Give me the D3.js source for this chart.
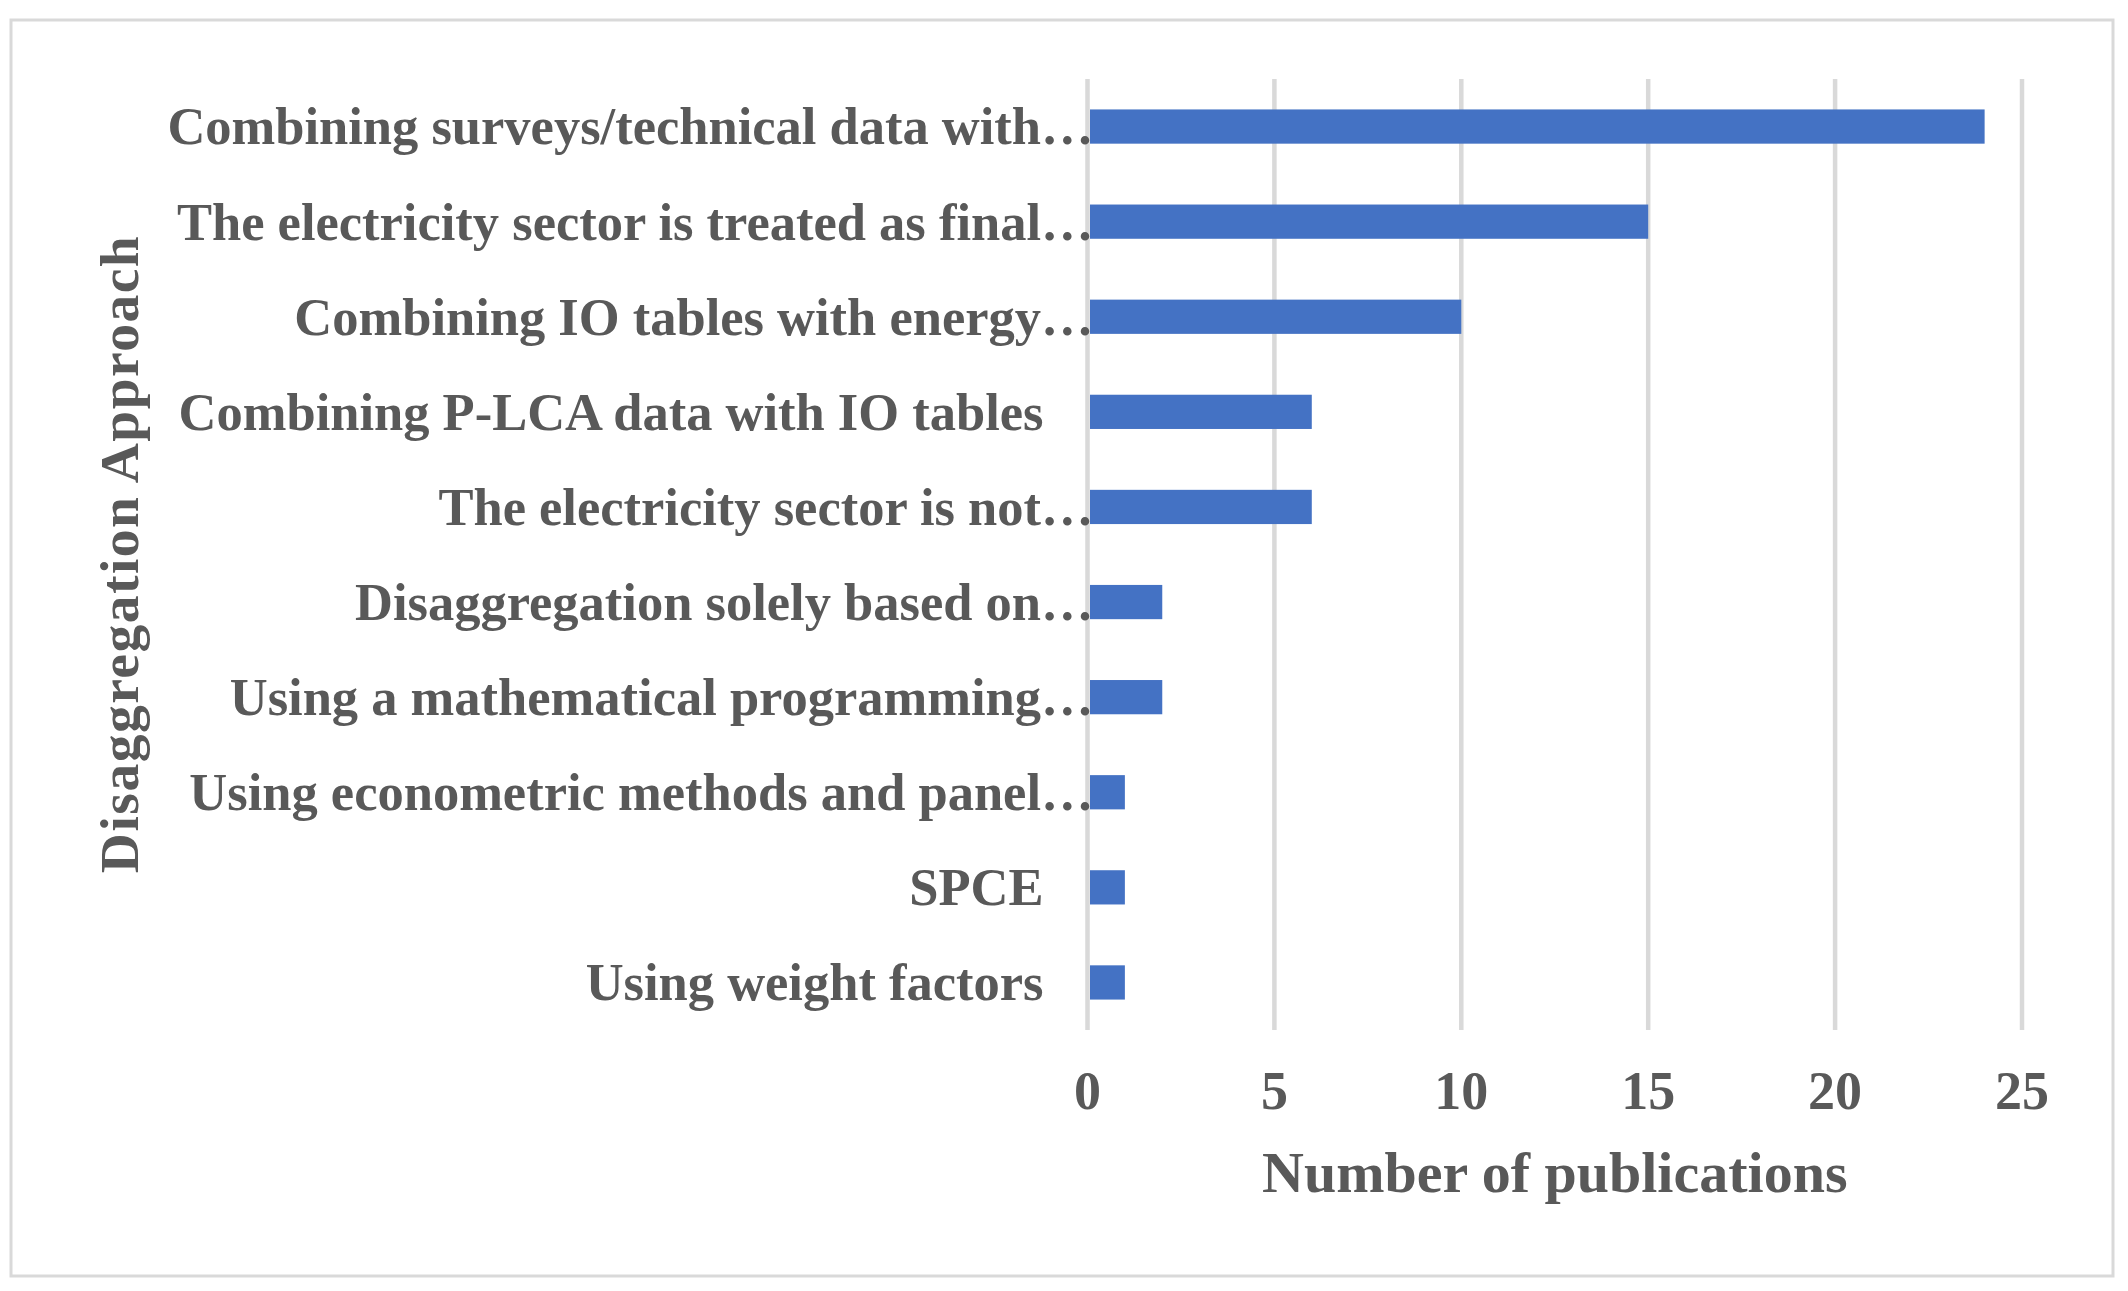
<!DOCTYPE html>
<html>
<head>
<meta charset="utf-8">
<script src="https://cdn.jsdelivr.net/npm/d3@7"></script>
<style>
  body { margin: 0; background: #fff; }
  text { font-family: "Liberation Serif", "Times New Roman", serif; font-weight: bold; fill: #595959; }
</style>
</head>
<body>
<svg id="chart" width="2128" height="1291"></svg>
<script>
// categories top to bottom, as printed (Excel cut the long ones with an ellipsis)
var categories = [
  "Combining surveys/technical data with\u2026",
  "The electricity sector is treated as final\u2026",
  "Combining IO tables with energy\u2026",
  "Combining P-LCA data with IO tables",
  "The electricity sector is not\u2026",
  "Disaggregation solely based on\u2026",
  "Using a mathematical programming\u2026",
  "Using econometric methods and panel\u2026",
  "SPCE",
  "Using weight factors"
];
var publications = [24, 15, 10, 6, 6, 2, 2, 1, 1, 1];
var xTicks = [0, 5, 10, 15, 20, 25];
var xTitle = "Number of publications";
var yTitle = "Disaggregation Approach";

var svg = d3.select("#chart");

// outer frame
svg.append("rect")
	.attr("x", 11).attr("y", 20)
	.attr("width", 2102).attr("height", 1256)
	.attr("fill", "none")
	.attr("stroke", "#d9d9d9")
	.attr("stroke-width", 3);

var x = d3.scaleLinear().domain([0, 25]).range([1087.5, 2022]);
var y = d3.scaleBand().domain(categories).range([79, 1030]).paddingInner(0.64).paddingOuter(0.32);

// gridlines
svg.append("g")
	.selectAll("line")
	.data(xTicks)
	.enter()
	.append("line")
	.attr("x1", function(d){ return x(d); })
	.attr("x2", function(d){ return x(d); })
	.attr("y1", 79)
	.attr("y2", 1030)
	.attr("stroke", "#d9d9d9")
	.attr("stroke-width", 4.5);

// bars
svg.append("g")
	.selectAll("rect")
	.data(publications)
	.enter()
	.append("rect")
	.attr("x", x(0) + 2.5)
	.attr("y", function(d, i){ return y(categories[i]); })
	.attr("width", function(d){ return x(d) - x(0) - 2.5; })
	.attr("height", y.bandwidth())
	.attr("fill", "#4472c4");

// category labels
svg.append("g")
	.selectAll("text")
	.data(categories)
	.enter()
	.append("text")
	.attr("x", function(d){ return d.slice(-1) == "\u2026" ? x(0) + 6 : x(0) - 44; })
	.attr("y", function(d){ return y(d) + y.bandwidth() / 2; })
	.attr("dy", "0.34em")
	.attr("text-anchor", "end")
	.attr("font-size", 52.5)
	.text(function(d){ return d; });

// x tick labels
svg.append("g")
	.selectAll("text")
	.data(xTicks)
	.enter()
	.append("text")
	.attr("x", function(d){ return x(d); })
	.attr("y", 1109)
	.attr("text-anchor", "middle")
	.attr("font-size", 54)
	.text(function(d){ return d; });

svg.append("text")
	.attr("x", (x(0) + x(25)) / 2)
	.attr("y", 1192)
	.attr("text-anchor", "middle")
	.attr("font-size", 58)
	.text(xTitle);

svg.append("text")
	.attr("transform", "translate(138,554) rotate(-90)")
	.attr("text-anchor", "middle")
	.attr("font-size", 55.5)
	.attr("letter-spacing", 1.5)
	.text(yTitle);
</script>
</body>
</html>
